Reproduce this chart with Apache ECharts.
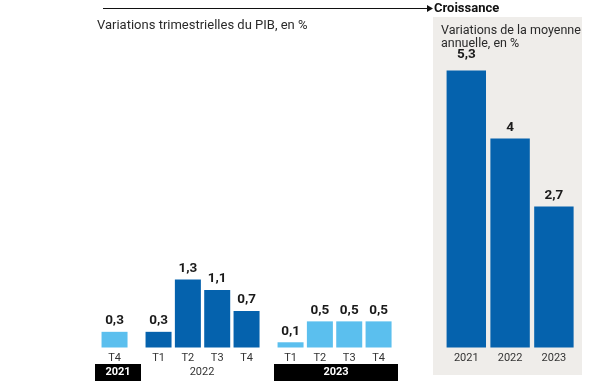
<!DOCTYPE html>
<html>
<head>
<meta charset="utf-8">
<script src="https://cdn.jsdelivr.net/npm/echarts@6/dist/echarts.min.js"></script>
<style>
html,body{margin:0;padding:0;background:#fff;}
#c{width:593px;height:389px;}
</style>
</head>
<body>
<div id="c"></div>
<script>
// ---- Data ----
const quarterLabels = ['T4', 'T1', 'T2', 'T3', 'T4', 'T1', 'T2', 'T3', 'T4'];
const quarterYears = ['2021', '2022', '2022', '2022', '2022', '2023', '2023', '2023', '2023'];
const quarterValues = [0.3, 0.3, 1.3, 1.1, 0.7, 0.1, 0.5, 0.5, 0.5];
const annualYears = ['2021', '2022', '2023'];
const annualValues = [5.3, 4, 2.7];
const yearGroups = ['2021', '2022', '2023'];

const titleLeft = 'Variations trimestrielles du PIB, en %';
const titleRight = 'Variations de la moyenne\nannuelle, en %';
const headTitle = 'Croissance';

const DARK = '#0562ad';
const LIGHT = '#5bbfee';
const FONT = 'Roboto';

// Build spaced category axis (one blank between quarters, two between years)
const cats = [];
const vals = [];
const cols = [];
quarterLabels.forEach((q, i) => {
  if (i > 0) {
    const gap = quarterYears[i] === quarterYears[i - 1] ? 1 : 2;
    for (let g = 0; g < gap; g++) { cats.push(''); vals.push('-'); cols.push(null); }
  }
  cats.push(q);
  vals.push(quarterValues[i]);
  cols.push(quarterYears[i] === '2022' ? DARK : LIGHT);
});

const fmt = v => String(v).replace('.', ',');

const chart = echarts.init(document.getElementById('c'), null, {renderer: 'canvas'});
const labelStyle = {show: true, position: 'top', distance: 4, color: '#1a1a1a', fontWeight: 'bold', fontSize: 13.5, fontFamily: FONT,
  formatter: p => fmt(p.value)};

chart.setOption({
  animation: false,
  backgroundColor: '#ffffff',
  textStyle: {fontFamily: FONT},
  grid: [
    {left: 107.2, width: 278.7, top: 34, bottom: 41.5},
    {left: 444.4, right: 17.2, top: 34, bottom: 41.5}
  ],
  xAxis: [
    {type: 'category', gridIndex: 0, data: cats, axisLine: {show: false}, axisTick: {show: false},
      axisLabel: {interval: 0, margin: 5, color: '#333', fontSize: 11, fontFamily: FONT}},
    {type: 'category', gridIndex: 1, data: annualYears, axisLine: {show: false}, axisTick: {show: false},
      axisLabel: {interval: 0, margin: 5, color: '#333', fontSize: 11, fontFamily: FONT}}
  ],
  yAxis: [
    {type: 'value', gridIndex: 0, min: 0, max: 6, show: false},
    {type: 'value', gridIndex: 1, min: 0, max: 6, show: false}
  ],
  series: [
    {type: 'bar', xAxisIndex: 0, yAxisIndex: 0, barWidth: 26, clip: false,
      data: vals.map((v, i) => v === '-' ? '-' : {value: v, itemStyle: {color: cols[i]}}),
      label: labelStyle},
    {type: 'bar', xAxisIndex: 1, yAxisIndex: 1, barCategoryGap: '10%', clip: false,
      data: annualValues.map((v, i) => ({value: v, itemStyle: {color: DARK}, label: i === 0 ? {distance: 9} : undefined})),
      label: labelStyle}
  ],
  graphic: [
    {type: 'rect', z: -10, shape: {x: 433, y: 17, width: 149, height: 358}, style: {fill: '#efedea'}},
    {type: 'line', shape: {x1: 103, y1: 8.5, x2: 428, y2: 8.5}, style: {stroke: '#111', lineWidth: 1.2}},
    {type: 'polygon', shape: {points: [[427, 5], [433, 8.5], [427, 12]]}, style: {fill: '#111'}},
    {type: 'text', x: 434, y: 9, style: {text: headTitle, fill: '#111', font: 'bold 13px ' + FONT, verticalAlign: 'middle'}},
    {type: 'text', x: 97, y: 26, style: {text: titleLeft, fill: '#2a2a2a', font: '13px ' + FONT, verticalAlign: 'middle'}},
    {type: 'text', x: 441, y: 24, style: {text: titleRight, fill: '#2a2a2a', font: '12.5px ' + FONT, lineHeight: 13, verticalAlign: 'top'}},
    {type: 'rect', shape: {x: 95, y: 364, width: 46, height: 17}, style: {fill: '#000'}},
    {type: 'text', x: 118, y: 372.5, style: {text: yearGroups[0], fill: '#fff', font: 'bold 11px ' + FONT, align: 'center', verticalAlign: 'middle'}},
    {type: 'text', x: 202, y: 372.5, style: {text: yearGroups[1], fill: '#333', font: '11px ' + FONT, align: 'center', verticalAlign: 'middle'}},
    {type: 'rect', shape: {x: 274, y: 364, width: 124, height: 17}, style: {fill: '#000'}},
    {type: 'text', x: 336, y: 372.5, style: {text: yearGroups[2], fill: '#fff', font: 'bold 11px ' + FONT, align: 'center', verticalAlign: 'middle'}}
  ]
});
</script>
</body>
</html>
